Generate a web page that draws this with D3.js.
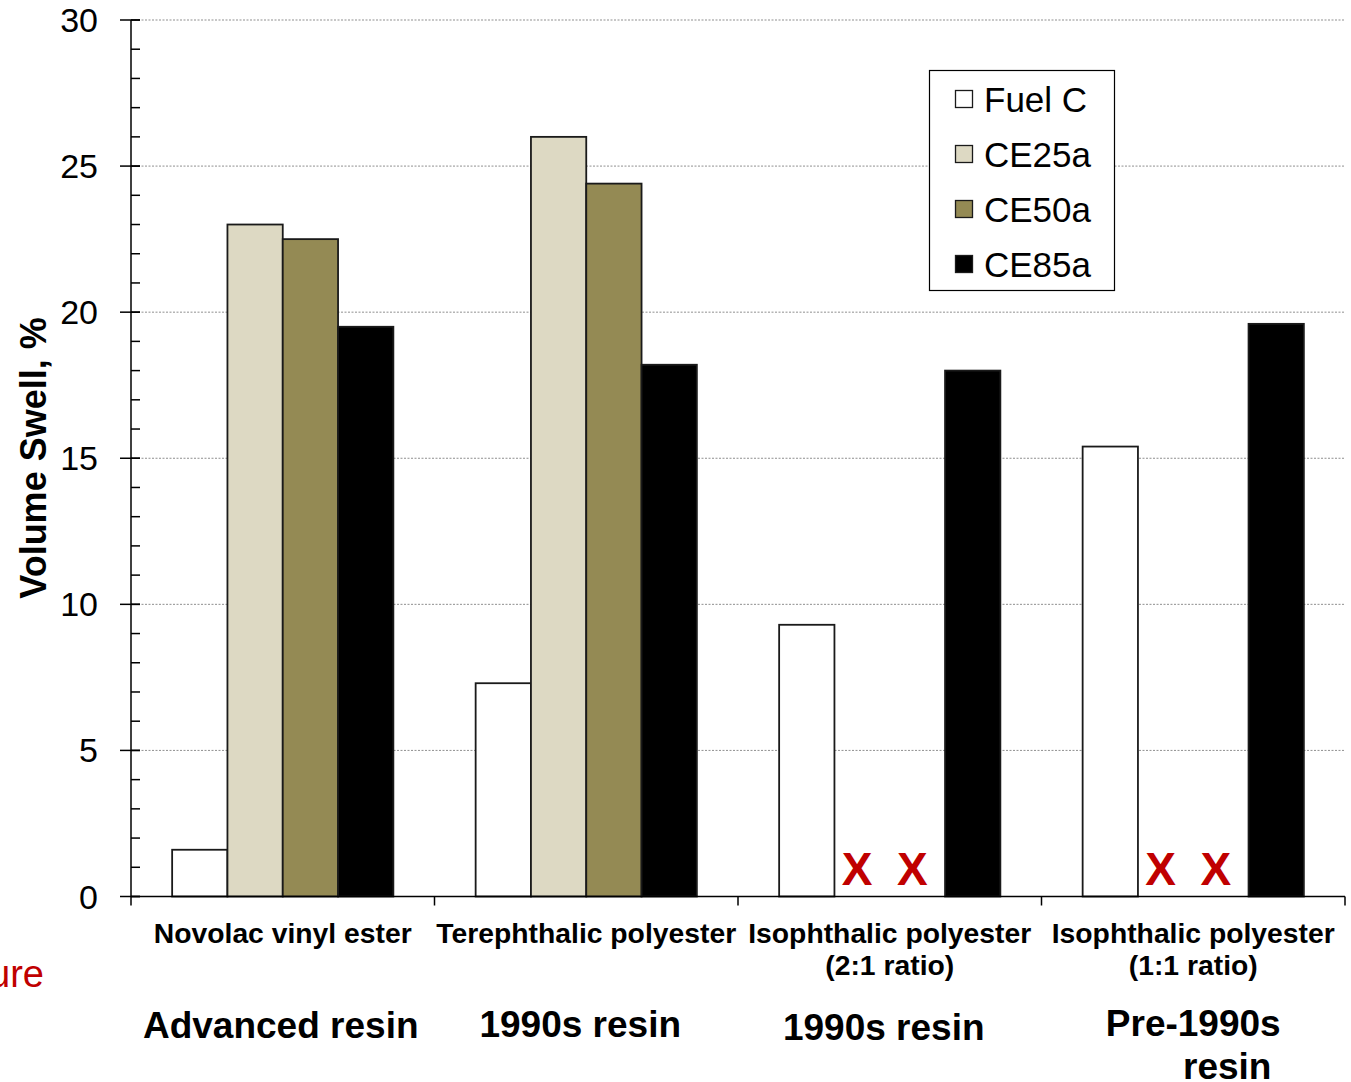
<!DOCTYPE html>
<html>
<head>
<meta charset="utf-8">
<script src="https://cdn.jsdelivr.net/npm/d3@7"></script>
<style>
  html, body { margin: 0; padding: 0; background: #fff; }
  svg { display: block; font-family: "Liberation Sans", Arial, sans-serif; }
</style>
</head>
<body>
<svg id="chart" width="1351" height="1082"></svg>
<script>
// Resin types (x categories), one label line per array entry
const categories = [
  "Novolac vinyl ester",
  "Terephthalic polyester",
  "Isophthalic polyester (2:1 ratio)",
  "Isophthalic polyester (1:1 ratio)"
];
const categoryLines = [
  ["Novolac vinyl ester"],
  ["Terephthalic polyester"],
  ["Isophthalic polyester", "(2:1 ratio)"],
  ["Isophthalic polyester", "(1:1 ratio)"]
];
const eraLabels = [
  ["Advanced resin"],
  ["1990s resin"],
  ["1990s resin"],
  ["Pre-1990s", "resin"]
];

// Test fluids and volume swell (%); null = not tested (marked with X)
const seriesNames = ["Fuel C", "CE25a", "CE50a", "CE85a"];
const fuelC = [1.6, 7.3, 9.3, 15.4];
const ce25a = [23.0, 26.0, null, null];
const ce50a = [22.5, 24.4, null, null];
const ce85a = [19.5, 18.2, 18.0, 19.6];
const seriesValues = [fuelC, ce25a, ce50a, ce85a];
const seriesColors = ["#ffffff", "#ddd9c3", "#948a54", "#000000"];

const yTicks = [0, 5, 10, 15, 20, 25, 30];
const yLabel = "Volume Swell, %";

// ---- layout ----
const svg = d3.select("#chart");
const plot = { left: 131, right: 1345, top: 20, bottom: 896.5 };

const x0 = d3.scaleBand().domain(categories).range([plot.left, plot.right]).padding(0);
const x1 = d3.scaleBand().domain(seriesNames).range([0, x0.bandwidth()])
  .paddingInner(0).paddingOuter(0.744);
const y = d3.scaleLinear().domain([0, 30]).range([plot.bottom, plot.top]);

// dotted gridlines at major ticks
svg.append("g")
  .selectAll("line")
  .data(yTicks.filter(d => d > 0))
  .join("line")
  .attr("x1", plot.left).attr("x2", plot.right)
  .attr("y1", d => y(d)).attr("y2", d => y(d))
  .attr("stroke", "#8f8f8f").attr("stroke-width", 1)
  .attr("stroke-dasharray", "2,1.5");

// bars
const rows = [];
categories.forEach((c, i) => {
  seriesNames.forEach((s, j) => {
    rows.push({ cat: c, series: s, value: seriesValues[j][i], color: seriesColors[j] });
  });
});

const barG = svg.append("g");
barG.selectAll("rect")
  .data(rows.filter(d => d.value !== null))
  .join("rect")
  .attr("x", d => x0(d.cat) + x1(d.series))
  .attr("y", d => y(d.value))
  .attr("width", x1.bandwidth())
  .attr("height", d => y(0) - y(d.value))
  .attr("fill", d => d.color)
  .attr("stroke", "#1a1a1a")
  .attr("stroke-width", 1.8);

// X markers for untested fluids
barG.selectAll("text")
  .data(rows.filter(d => d.value === null))
  .join("text")
  .attr("x", d => x0(d.cat) + x1(d.series) + x1.bandwidth() / 2 - 5)
  .attr("y", 885)
  .attr("text-anchor", "middle")
  .attr("font-size", 46)
  .attr("font-weight", "bold")
  .attr("fill", "#c00000")
  .text("X");

// y axis with major (crossing) and minor (inside) ticks
const yAxisG = svg.append("g");
yAxisG.append("line")
  .attr("x1", plot.left).attr("x2", plot.left)
  .attr("y1", y(30)).attr("y2", y(0))
  .attr("stroke", "#000").attr("stroke-width", 1.5);
yAxisG.selectAll("line.minor")
  .data(d3.range(0, 31))
  .join("line")
  .attr("class", "minor")
  .attr("x1", plot.left).attr("x2", plot.left + 9)
  .attr("y1", d => y(d)).attr("y2", d => y(d))
  .attr("stroke", "#000").attr("stroke-width", 1.5);
yAxisG.selectAll("line.major")
  .data(yTicks)
  .join("line")
  .attr("class", "major")
  .attr("x1", plot.left - 11).attr("x2", plot.left + 9)
  .attr("y1", d => y(d)).attr("y2", d => y(d))
  .attr("stroke", "#000").attr("stroke-width", 1.5);
yAxisG.selectAll("text")
  .data(yTicks)
  .join("text")
  .attr("x", 98)
  .attr("y", d => y(d) + 12)
  .attr("text-anchor", "end")
  .attr("font-size", 34)
  .attr("fill", "#000")
  .text(d => d);

// x axis line and group boundary ticks
const xAxisG = svg.append("g");
xAxisG.append("line")
  .attr("x1", plot.left).attr("x2", plot.right)
  .attr("y1", plot.bottom).attr("y2", plot.bottom)
  .attr("stroke", "#000").attr("stroke-width", 1.5);
const bounds = categories.map(c => x0(c)).concat([plot.right]);
xAxisG.selectAll("line.tick")
  .data(bounds)
  .join("line")
  .attr("class", "tick")
  .attr("x1", d => d).attr("x2", d => d)
  .attr("y1", plot.bottom).attr("y2", plot.bottom + 9)
  .attr("stroke", "#000").attr("stroke-width", 1.5);

// category labels
categories.forEach((c, i) => {
  const cx = x0(c) + x0.bandwidth() / 2;
  const t = xAxisG.append("text")
    .attr("text-anchor", "middle")
    .attr("font-size", 28.3)
    .attr("font-weight", "bold")
    .attr("fill", "#000");
  categoryLines[i].forEach((line, k) => {
    t.append("tspan").attr("x", cx).attr("y", 943 + k * 32).text(line);
  });
});

// resin era labels
const eraOffsets = [[-2, 1038], [-6, 1037], [-6, 1040], [0, 1036]];
const eraSecondLine = [0, 0, 0, 34];
categories.forEach((c, i) => {
  const cx = x0(c) + x0.bandwidth() / 2;
  eraLabels[i].forEach((line, k) => {
    svg.append("text")
      .attr("x", cx + eraOffsets[i][0] + (k > 0 ? eraSecondLine[i] : 0))
      .attr("y", eraOffsets[i][1] + k * 43)
      .attr("text-anchor", "middle")
      .attr("font-size", 37)
      .attr("font-weight", "bold")
      .attr("fill", "#000")
      .text(line);
  });
});

// y axis title
svg.append("text")
  .attr("transform", "translate(46,458) rotate(-90)")
  .attr("text-anchor", "middle")
  .attr("font-size", 36)
  .attr("font-weight", "bold")
  .attr("fill", "#000")
  .text(yLabel);

// caption text running off the left edge
svg.append("text")
  .attr("x", 44).attr("y", 987)
  .attr("text-anchor", "end")
  .attr("font-size", 38)
  .attr("fill", "#c00000")
  .text("Figure");

// legend
const legend = svg.append("g");
legend.append("rect")
  .attr("x", 929.5).attr("y", 70.5)
  .attr("width", 185).attr("height", 220)
  .attr("fill", "#fff").attr("stroke", "#000").attr("stroke-width", 1.2);
seriesNames.forEach((s, j) => {
  const cy = 99 + j * 55;
  legend.append("rect")
    .attr("x", 955.5).attr("y", cy - 8.5)
    .attr("width", 17).attr("height", 17)
    .attr("fill", seriesColors[j])
    .attr("stroke", "#1a1a1a").attr("stroke-width", 1.3);
  legend.append("text")
    .attr("x", 984).attr("y", cy + 12.5)
    .attr("font-size", 35)
    .attr("fill", "#000")
    .text(s);
});
</script>
</body>
</html>
